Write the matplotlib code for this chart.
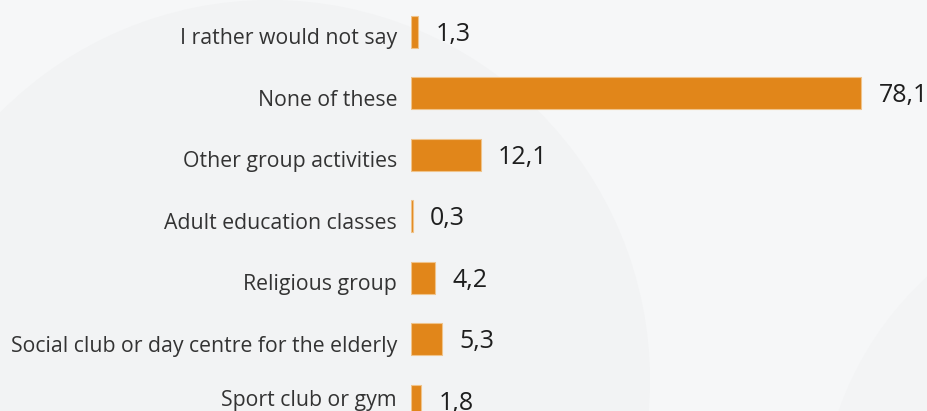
import matplotlib.pyplot as plt
from matplotlib.patches import Ellipse
from matplotlib.transforms import ScaledTranslation

categories = [
    "I rather would not say",
    "None of these",
    "Other group activities",
    "Adult education classes",
    "Religious group",
    "Social club or day centre for the elderly",
    "Sport club or gym",
]
values = [1.3, 78.1, 12.1, 0.3, 4.2, 5.3, 1.8]

bar_color = "#e1861a"
bg_color = "#f6f7f8"

plt.rcParams["font.family"] = ["Open Sans", "DejaVu Sans"]

W, H = 927, 411
fig = plt.figure(figsize=(W / 100, H / 100), dpi=100, facecolor=bg_color)

# soft background shapes (sizes in pixels, converted to figure fractions)
fig.patches.append(Ellipse((270 / W, 1 - 380 / H), 2 * 380 / W, 2 * 380 / H,
                           transform=fig.transFigure, facecolor="#f2f3f4",
                           edgecolor="none", zorder=-2))
fig.patches.append(Ellipse((1150 / W, 1 - 520 / H), 2 * 330 / W, 2 * 330 / H,
                           transform=fig.transFigure, facecolor="#f3f4f5",
                           edgecolor="none", zorder=-1))

ax = fig.add_axes([411 / W, 0.0, 490 / W, 1.0])
ax.set_facecolor("none")

ypos = list(range(len(categories)))
ax.barh(ypos, values, height=0.52, color=bar_color,
        edgecolor="#f0c38a", linewidth=0.8)

for y, v in zip(ypos, values):
    ax.annotate(f"{v:.1f}".replace(".", ","), xy=(v, y), xytext=(12.5, -1.5),
                textcoords="offset points", ha="left", va="center",
                fontsize=18, color="#1e1e1e", annotation_clip=False)

ax.set_yticks(ypos)
ax.set_yticklabels(categories, fontsize=15.3, color="#333333")
ax.tick_params(axis="y", length=0, pad=10)
ax.set_xticks([])

# nudge category labels slightly below the bar centres; the bottom one
# sits at the edge, so it is lifted instead
last = len(categories) - 1
for i, label in enumerate(ax.get_yticklabels()):
    off = 0.025 if i == last else -0.045
    label.set_transform(label.get_transform()
                        + ScaledTranslation(0, off, fig.dpi_scale_trans))

ax.set_xlim(0, 85)
ax.set_ylim(6.163, -0.52)
for side in ax.spines.values():
    side.set_visible(False)

fig.savefig("out.png", dpi=100, facecolor=bg_color)
